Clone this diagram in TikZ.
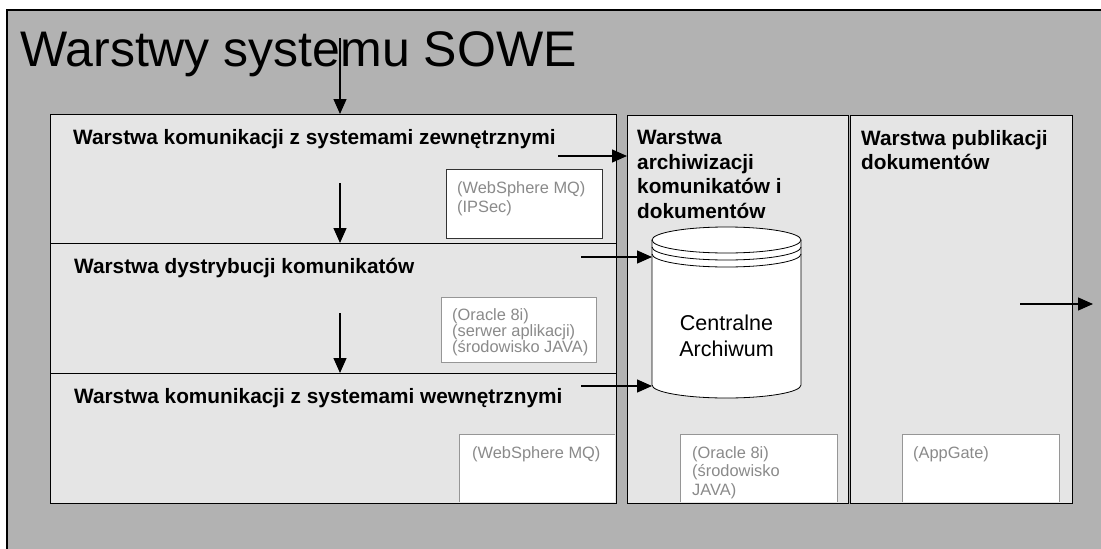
\documentclass[tikz,border=0pt]{standalone}
\usepackage{fontspec}
\setmainfont{Liberation Sans}
\usetikzlibrary{arrows.meta}
\definecolor{outergray}{RGB}{178,178,178}
\definecolor{layergray}{RGB}{229,229,229}
\definecolor{techgray}{RGB}{138,138,138}
\definecolor{techline}{RGB}{150,150,150}
\begin{document}
\begin{tikzpicture}[x=1pt,y=-1pt,
  layer/.style={draw=black,line width=1.4pt,fill=layergray,anchor=north west,inner sep=0pt},
  layertitle/.style={font=\bfseries\fontsize{20.8}{24.5}\selectfont,align=left,inner sep=0pt},
  techbox/.style={fill=white,draw=techline,line width=0.9pt},
  techtext/.style={text=techgray,align=left,inner sep=0pt,anchor=north west},
  flow/.style={-{Triangle[length=15pt,width=13pt]},line width=1.3pt}]
\tikzstyle{every node}+=[inner sep=0pt]
\useasboundingbox (0,0) rectangle (1101,549);
\fill [outergray] (7,10) rectangle (1101,549);
\draw [black,line width=1.3pt] (7,549) -- (7,10) -- (1101,10);
\node [anchor=base west,font=\fontsize{50}{60}\selectfont] (title) at (20,66) {Warstwy systemu SOWE};
\node [layer,minimum width=566pt,minimum height=129pt] (ext) at (50,114) {};
\node [layer,minimum width=566pt,minimum height=130pt] (dist) at (50,243) {};
\node [layer,minimum width=566pt,minimum height=130pt] (int) at (50,373) {};
\node [layer,minimum width=221pt,minimum height=388pt] (arch) at (627,115) {};
\node [layer,minimum width=222pt,minimum height=388pt] (pub) at (850,115) {};
\node [layertitle,anchor=base west] (exttitle) at (73,144) {Warstwa komunikacji z systemami zewnętrznymi};
\node [layertitle,anchor=base west] (disttitle) at (74,273) {Warstwa dystrybucji komunikatów};
\node [layertitle,anchor=base west] (inttitle) at (74,403) {Warstwa komunikacji z systemami wewnętrznymi};
\node [layertitle,anchor=north west] (archtitle) at (637,130) {Warstwa\\archiwizacji\\komunikatów i\\dokumentów};
\node [layertitle,anchor=north west] (pubtitle) at (861,130) {Warstwa publikacji\\dokumentów};
\filldraw [techbox,draw=black!80] (446,169) rectangle (602,238);
\node [techtext,font=\fontsize{16.4}{19}\selectfont] (mq1) at (457,181) {(WebSphere MQ)\\(IPSec)};
\filldraw [techbox] (441,297) rectangle (596,362);
\node [techtext,font=\fontsize{16.4}{16}\selectfont] (ora1) at (452,308) {(Oracle 8i)\\(serwer aplikacji)\\(środowisko JAVA)};
\fill [white] (459,434) rectangle (615.2,502.2);
\draw [techline,line width=0.9pt] (459,502.2) |- (615.2,434);
\node [techtext,font=\fontsize{16.4}{18.5}\selectfont] (mq2) at (472,446) {(WebSphere MQ)};
\filldraw [techbox] (680,502.2) |- (837,434) -- (837,502.2);
\node [techtext,font=\fontsize{16.4}{18.5}\selectfont] (ora2) at (692,446) {(Oracle 8i)\\(środowisko\\JAVA)};
\filldraw [techbox] (902,502.2) |- (1059,434) -- (1059,502.2);
\node [techtext,font=\fontsize{16.4}{18.5}\selectfont] (gate) at (913,446) {(AppGate)};
\filldraw [fill=white,draw=black,line width=0.8pt] (652,240) -- (652,385) arc [start angle=180,end angle=360,x radius=74.5pt,y radius=13pt] -- (801,240) arc [start angle=0,end angle=180,x radius=74.5pt,y radius=13pt] -- cycle;
\draw [black,line width=0.8pt] (652,240) arc [start angle=180,end angle=360,x radius=74.5pt,y radius=13pt];
\draw [black,line width=0.8pt] (652,247) arc [start angle=180,end angle=360,x radius=74.5pt,y radius=13pt];
\draw [black,line width=0.8pt] (652,254) arc [start angle=180,end angle=360,x radius=74.5pt,y radius=13pt];
\node [align=center,font=\fontsize{21.5}{26}\selectfont] (db) at (726.5,336) {Centralne\\Archiwum};
\coordinate (dbside) at (652,320);
\coordinate (input) at (340,38);
\coordinate (extout) at (340,183);
\coordinate (distout) at (340,313);
\coordinate (extarch) at (558,156);
\coordinate (distdb) at (581,257);
\coordinate (intdb) at (581,386);
\coordinate (pubout) at (1020,304);
\coordinate (pubend) at (1093,304);
\draw [flow] (input) -- (input |- ext.north);
\draw [flow] (extout) -- (extout |- dist.north);
\draw [flow] (distout) -- (distout |- int.north);
\draw [flow] (extarch) -- (extarch -| arch.west);
\draw [flow] (distdb) -- (distdb -| dbside);
\draw [flow] (intdb) -- (intdb -| dbside);
\draw [flow] (pubout) -- (pubend);
\end{tikzpicture}
\end{document}
